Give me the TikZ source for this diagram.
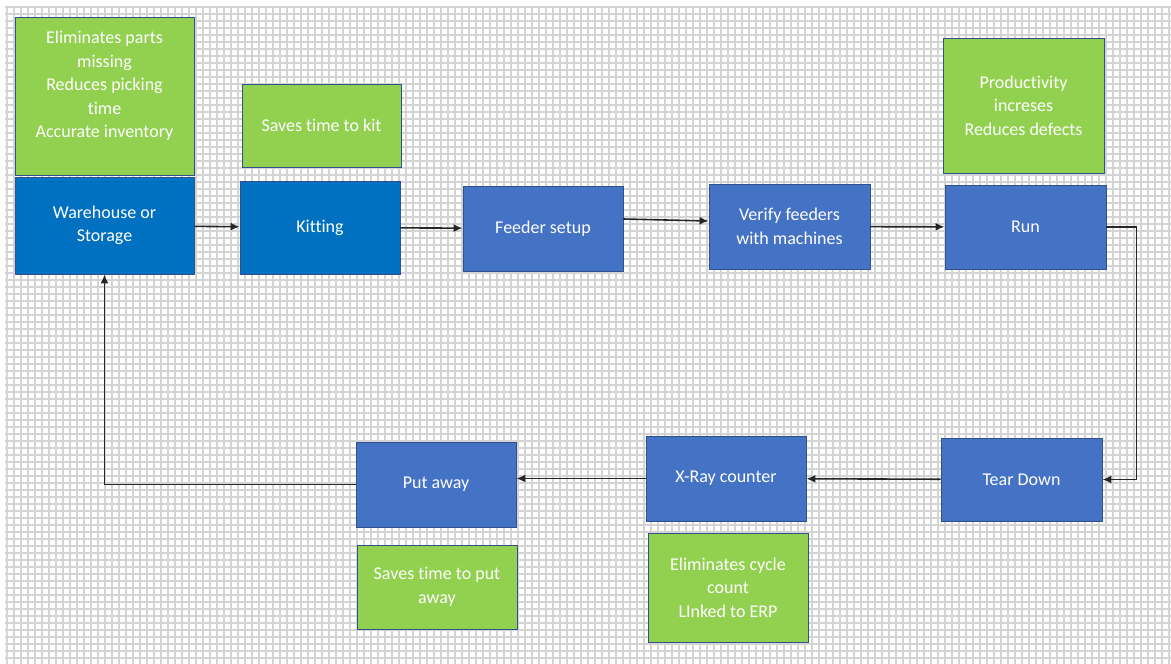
\documentclass[tikz,border=0pt]{standalone}
\usepackage{fontspec}
\setmainfont{Carlito}[Ligatures={NoCommon}]
\usepackage{tikz}
\usetikzlibrary{arrows.meta, calc}
\definecolor{stepblue}{HTML}{4472C4}
\definecolor{storeblue}{HTML}{0070C0}
\definecolor{edgeblue}{HTML}{2F528F}
\definecolor{notegreen}{HTML}{92D050}
\tikzset{
    stage/.style={rectangle, draw=edgeblue, line width=0.9pt, fill=stepblue, text=white,
        align=center, font=\fontsize{18}{23.5}\selectfont, inner sep=2pt},
    store/.style={stage, fill=storeblue},
    note/.style={stage, fill=notegreen},
    flow/.style={-{Latex[length=9pt,width=8pt]}, line width=1.6pt, black!85}
}

\begin{document}
\begin{tikzpicture}[x=1pt, y=-1pt]
            % page with grid paper
            \fill[white] (0,0) rectangle (1171,664);
            \useasboundingbox (0,0) rectangle (1171,664);
            \draw[black!17, line width=1.6pt, step=7pt] (5,6) grid (1171,664);

            % upper row of stages
            \node[store, minimum width=179pt, minimum height=97pt] (warehouse) at (104.5,225.5) {Warehouse or\\ Storage};
            \node[store, minimum width=160pt, minimum height=93pt] (kitting) at (320,227.5) {Kitting};
            \node[stage, minimum width=160pt, minimum height=85pt] (feeder) at (543,228.5) {Feeder setup};
            \node[stage, minimum width=161pt, minimum height=85pt] (verify) at (789.5,226.5) {Verify feeders\\ with machines};
            \node[stage, minimum width=161pt, minimum height=84pt] (run) at (1025.5,227) {Run};

            % lower row of stages
            \node[stage, minimum width=161pt, minimum height=83pt] (teardown) at (1021.5,479.5) {Tear Down};
            \node[stage, minimum width=160pt, minimum height=85pt] (xray) at (726,478.5) {X-Ray counter};
            \node[stage, minimum width=160pt, minimum height=85pt] (putaway) at (436,484.5) {Put away};

            % benefits
            \node[note, minimum width=179pt, minimum height=158pt] (storenote) at (104.5,96) {Eliminates parts\\ missing\\ Reduces picking\\ time\\ Accurate inventory\\ ~};
            \node[note, minimum width=159pt, minimum height=83pt] (kitnote) at (321.5,125.5) {Saves time to kit};
            \node[note, minimum width=161pt, minimum height=135pt] (runnote) at (1023.5,105.5) {Productivity\\ increses\\ Reduces defects};
            \node[note, minimum width=160pt, minimum height=109pt] (xraynote) at (728,587.5) {Eliminates cycle\\ count\\ LInked to ERP};
            \node[note, minimum width=160pt, minimum height=84pt] (putnote) at (437,587) {Saves time to put\\ away};

            % process flow
            \draw[flow] (warehouse) -- (kitting);
            \draw[flow] (kitting) -- (feeder);
            \draw[flow] ([yshift=9.5pt]feeder.east) -- ([yshift=5.5pt]verify.west);
            \draw[flow] (verify) -- (run);
            \draw[flow] (run.east) -- ++(30pt,0) |- (teardown.east);
            \draw[flow] (teardown) -- (xray);
            \draw[flow] (xray.west) -- (putaway.east |- xray.west);
            \draw[flow] (putaway.west) -| (warehouse.south);
        \end{tikzpicture}
\end{document}
